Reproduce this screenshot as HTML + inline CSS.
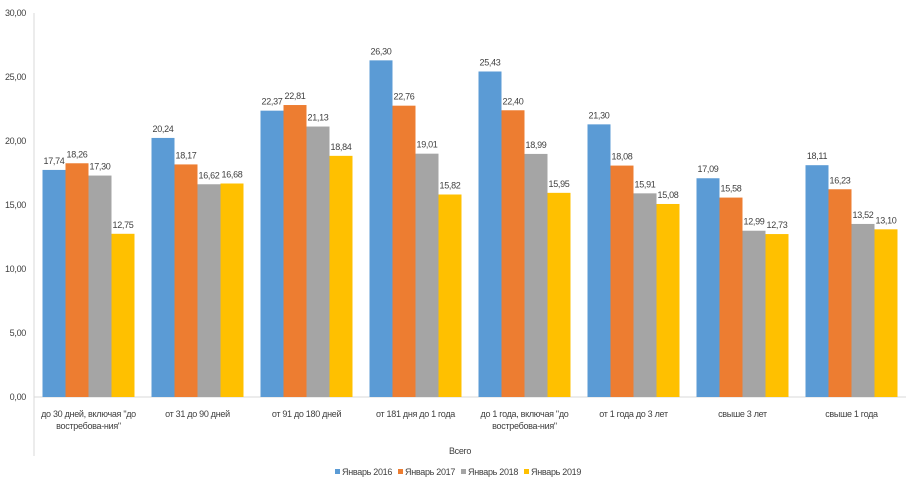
<!DOCTYPE html>
<html><head><meta charset="utf-8"><style>
body{margin:0;background:#fff;font-family:"Liberation Sans",sans-serif}
svg text{font-family:"Liberation Sans",sans-serif;fill:#404040;letter-spacing:-0.3px}
</style></head><body>
<svg width="911" height="492" id="c"></svg>
<script>
const categories=["до 30 дней, включая \"до|востребова-ния\"","от 31 до 90 дней","от 91 до 180 дней","от 181 дня до 1 года","до 1 года, включая \"до|востребова-ния\"","от 1 года до 3 лет","свыше 3 лет","свыше 1 года"];
const s2016=[17.74,20.24,22.37,26.30,25.43,21.30,17.09,18.11];
const s2017=[18.26,18.17,22.81,22.76,22.40,18.08,15.58,16.23];
const s2018=[17.30,16.62,21.13,19.01,18.99,15.91,12.99,13.52];
const s2019=[12.75,16.68,18.84,15.82,15.95,15.08,12.73,13.10];
const seriesNames=["Январь 2016","Январь 2017","Январь 2018","Январь 2019"];
const yTicks=[0,5,10,15,20,25,30];
const colors=["#5b9bd5","#ed7d31","#a5a5a5","#ffc000"];
const svg=document.getElementById('c');const NS="http://www.w3.org/2000/svg";
function mk(t,a,txt){const e=document.createElementNS(NS,t);for(const k in a)e.setAttribute(k,a[k]);if(txt!=null)e.textContent=txt;svg.appendChild(e);return e;}
const x0=34,x1=906,yZero=397,yTop=13,ymax=30;
const y=v=>yZero-(v/ymax)*(yZero-yTop);
const gw=(x1-x0)/categories.length,bw=23;
const gx=i=>x0+i*gw+gw/2-2*bw;
yTicks.forEach(t=>{const e=mk('text',{x:26,y:y(t)+3,'text-anchor':'end','font-size':9},t.toFixed(2).replace('.',','));

});
const ax=mk('line',{x1:x0,y1:yTop,x2:x0,y2:456,stroke:'#d9d9d9'});


const base=mk('line',{x1:x0,y1:yZero,x2:x1,y2:yZero,stroke:'#d9d9d9'});


const series=[s2016,s2017,s2018,s2019];
categories.forEach((c,i)=>{
 series.forEach((s,j)=>{
  const bx=gx(i)+j*bw;
  const r=mk('rect',{x:bx,y:y(s[i]),width:bw,height:yZero-y(s[i]),fill:colors[j]});
  
  
  const l=mk('text',{x:bx+bw/2,y:y(s[i])-6,'text-anchor':'middle','font-size':9},s[i].toFixed(2).replace('.',','));
  
  
 });
 const cx=x0+i*gw+gw/2;
 c.split('|').forEach((ln,k)=>{const t=mk('text',{x:cx,y:417+k*12,'text-anchor':'middle','font-size':9},ln);
 
 });
});
const g=mk('text',{x:460,y:454,'text-anchor':'middle','font-size':9},'Всего');


let lx=335;
seriesNames.forEach((n,j)=>{
 const sq=mk('rect',{x:lx,y:469,width:5,height:5,fill:colors[j]});
 
 
 const t=mk('text',{x:lx+7,y:475,'font-size':9},n);
 
 
 lx+=63;
});
</script>
</body></html>
